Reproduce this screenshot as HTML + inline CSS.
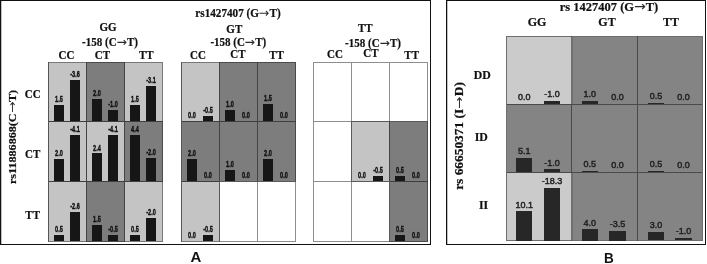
<!DOCTYPE html>
<html lang="en"><head><meta charset="utf-8"><title>Figure</title>
<style>
html,body{margin:0;padding:0;background:#fff;}
body{width:707px;height:264px;position:relative;overflow:hidden;}
.b{position:absolute;box-sizing:border-box;}
.frame{position:absolute;box-sizing:border-box;border:1px solid #111;border-left-width:1px;box-shadow:inset 1px 0 0 rgba(0,0,0,.25);}
.t{position:absolute;white-space:nowrap;transform:translate(-50%,-50%);line-height:1;color:#111;}
.t>span{display:block;}
.ar{display:inline-block;font-style:normal;font-family:"DejaVu Sans",sans-serif;font-weight:normal;font-size:1em;transform:scaleX(1.12);margin:0 .05em;-webkit-text-stroke:0 transparent;color:#2a2a2a;}
.ha>span{transform:scaleY(1.12);}
.hb>span{transform:scaleY(1.07);}
.v>span{transform:scaleX(1.1) !important;}
.vb>span{transform:scaleX(1.115) !important;}
.ha{font-family:"Liberation Serif",serif;font-weight:bold;font-size:11px;-webkit-text-stroke:.2px #111;}
.hb{font-family:"Liberation Serif",serif;font-weight:bold;font-size:12px;-webkit-text-stroke:.2px #111;}
.la{font-family:"Liberation Sans",sans-serif;font-weight:bold;font-size:9px;color:#111;-webkit-text-stroke:.4px #111;}
.la>span{transform:scaleX(.62);}
.lb{font-family:"Liberation Sans",sans-serif;font-size:9px;color:#222;-webkit-text-stroke:.45px #222;}
.plb>span{transform:scaleX(.9);}
.pl{font-family:"Liberation Sans",sans-serif;font-weight:bold;font-size:15px;color:#111;}
</style></head><body>
<div class="frame" style="left:0;top:0;width:431px;height:245px"></div>
<div class="frame" style="left:446px;top:0;width:260.4px;height:245px"></div>
<div class="b" style="left:48px;top:61.5px;width:39px;height:60.6px;background:#c4c4c4;border:1px solid #787878;"></div>
<div class="b" style="left:86px;top:61.5px;width:39px;height:60.6px;background:#7d7d7d;border:1px solid #4a4a4a;"></div>
<div class="b" style="left:124px;top:61.5px;width:39px;height:60.6px;background:#c4c4c4;border:1px solid #787878;"></div>
<div class="b" style="left:48px;top:121.1px;width:39px;height:60.9px;background:#c4c4c4;border:1px solid #787878;"></div>
<div class="b" style="left:86px;top:121.1px;width:39px;height:60.9px;background:#c4c4c4;border:1px solid #787878;"></div>
<div class="b" style="left:124px;top:121.1px;width:39px;height:60.9px;background:#7d7d7d;border:1px solid #4a4a4a;"></div>
<div class="b" style="left:48px;top:181px;width:39px;height:60.5px;background:#c4c4c4;border:1px solid #787878;"></div>
<div class="b" style="left:86px;top:181px;width:39px;height:60.5px;background:#7d7d7d;border:1px solid #4a4a4a;"></div>
<div class="b" style="left:124px;top:181px;width:39px;height:60.5px;background:#c4c4c4;border:1px solid #787878;"></div>
<div class="b" style="left:86px;top:61.5px;width:1px;height:60.6px;background:#444;"></div>
<div class="b" style="left:48px;top:121.1px;width:39px;height:1px;background:#3e3e3e;"></div>
<div class="b" style="left:48px;top:61.5px;width:1px;height:60.6px;background:#555;"></div>
<div class="b" style="left:124px;top:61.5px;width:1px;height:60.6px;background:#444;"></div>
<div class="b" style="left:86px;top:121.1px;width:39px;height:1px;background:#3e3e3e;"></div>
<div class="b" style="left:124px;top:121.1px;width:39px;height:1px;background:#3e3e3e;"></div>
<div class="b" style="left:86px;top:121.1px;width:1px;height:60.9px;background:#444;"></div>
<div class="b" style="left:48px;top:181px;width:39px;height:1px;background:#3e3e3e;"></div>
<div class="b" style="left:48px;top:121.1px;width:1px;height:60.9px;background:#555;"></div>
<div class="b" style="left:124px;top:121.1px;width:1px;height:60.9px;background:#444;"></div>
<div class="b" style="left:86px;top:181px;width:39px;height:1px;background:#3e3e3e;"></div>
<div class="b" style="left:124px;top:181px;width:39px;height:1px;background:#3e3e3e;"></div>
<div class="b" style="left:86px;top:181px;width:1px;height:60.5px;background:#444;"></div>
<div class="b" style="left:48px;top:181px;width:1px;height:60.5px;background:#555;"></div>
<div class="b" style="left:124px;top:181px;width:1px;height:60.5px;background:#444;"></div>
<div class="b" style="left:54.2px;top:105.1px;width:9.5px;height:16px;background:#161616;"></div>
<div class="t la" style="left:58.9px;top:99.2px;"><span>1.5</span></div>
<div class="b" style="left:70.1px;top:79.9px;width:9.5px;height:41.2px;background:#161616;"></div>
<div class="t la" style="left:74.8px;top:74px;"><span>-3.6</span></div>
<div class="b" style="left:92.2px;top:99.1px;width:9.5px;height:22px;background:#161616;"></div>
<div class="t la" style="left:96.9px;top:93.2px;"><span>2.0</span></div>
<div class="b" style="left:108.1px;top:110.1px;width:9.5px;height:11px;background:#161616;"></div>
<div class="t la" style="left:112.8px;top:104.2px;"><span>-1.0</span></div>
<div class="b" style="left:130.2px;top:105.1px;width:9.5px;height:16px;background:#161616;"></div>
<div class="t la" style="left:134.9px;top:99.2px;"><span>1.5</span></div>
<div class="b" style="left:146.1px;top:86.1px;width:9.5px;height:35px;background:#161616;"></div>
<div class="t la" style="left:150.8px;top:80.2px;"><span>-3.1</span></div>
<div class="b" style="left:54.2px;top:158.9px;width:9.5px;height:22.1px;background:#161616;"></div>
<div class="t la" style="left:58.9px;top:153px;"><span>2.0</span></div>
<div class="b" style="left:70.1px;top:134.9px;width:9.5px;height:46.1px;background:#161616;"></div>
<div class="t la" style="left:74.8px;top:129px;"><span>-4.1</span></div>
<div class="b" style="left:92.2px;top:153.4px;width:9.5px;height:27.6px;background:#161616;"></div>
<div class="t la" style="left:96.9px;top:147.5px;"><span>2.4</span></div>
<div class="b" style="left:108.1px;top:134.9px;width:9.5px;height:46.1px;background:#161616;"></div>
<div class="t la" style="left:112.8px;top:129px;"><span>-4.1</span></div>
<div class="b" style="left:130.2px;top:134.9px;width:9.5px;height:46.1px;background:#161616;"></div>
<div class="t la" style="left:134.9px;top:129px;"><span>4.4</span></div>
<div class="b" style="left:146.1px;top:158px;width:9.5px;height:23px;background:#161616;"></div>
<div class="t la" style="left:150.8px;top:152.1px;"><span>-2.0</span></div>
<div class="b" style="left:54.2px;top:234.5px;width:9.5px;height:6px;background:#161616;"></div>
<div class="t la" style="left:58.9px;top:228.6px;"><span>0.5</span></div>
<div class="b" style="left:70.1px;top:212px;width:9.5px;height:28.5px;background:#161616;"></div>
<div class="t la" style="left:74.8px;top:206.1px;"><span>-2.6</span></div>
<div class="b" style="left:92.2px;top:224.5px;width:9.5px;height:16px;background:#161616;"></div>
<div class="t la" style="left:96.9px;top:218.6px;"><span>1.5</span></div>
<div class="b" style="left:108.1px;top:234.5px;width:9.5px;height:6px;background:#161616;"></div>
<div class="t la" style="left:112.8px;top:228.6px;"><span>-0.5</span></div>
<div class="b" style="left:130.2px;top:234.5px;width:9.5px;height:6px;background:#161616;"></div>
<div class="t la" style="left:134.9px;top:228.6px;"><span>0.5</span></div>
<div class="b" style="left:146.1px;top:217.5px;width:9.5px;height:23px;background:#161616;"></div>
<div class="t la" style="left:150.8px;top:211.6px;"><span>-2.0</span></div>
<div class="b" style="left:181px;top:61.5px;width:39px;height:60.6px;background:#c4c4c4;border:1px solid #787878;"></div>
<div class="b" style="left:219px;top:61.5px;width:39px;height:60.6px;background:#7d7d7d;border:1px solid #4a4a4a;"></div>
<div class="b" style="left:257px;top:61.5px;width:38.6px;height:60.6px;background:#7d7d7d;border:1px solid #4a4a4a;"></div>
<div class="b" style="left:181px;top:121.1px;width:39px;height:60.9px;background:#7d7d7d;border:1px solid #4a4a4a;"></div>
<div class="b" style="left:219px;top:121.1px;width:39px;height:60.9px;background:#7d7d7d;border:1px solid #4a4a4a;"></div>
<div class="b" style="left:257px;top:121.1px;width:38.6px;height:60.9px;background:#7d7d7d;border:1px solid #4a4a4a;"></div>
<div class="b" style="left:181px;top:181px;width:39px;height:60.5px;background:#c4c4c4;border:1px solid #787878;"></div>
<div class="b" style="left:219px;top:181px;width:39px;height:60.5px;background:#fff;border:1px solid #8e8e8e;"></div>
<div class="b" style="left:257px;top:181px;width:38.6px;height:60.5px;background:#fff;border:1px solid #8e8e8e;"></div>
<div class="b" style="left:219px;top:61.5px;width:1px;height:60.6px;background:#444;"></div>
<div class="b" style="left:181px;top:121.1px;width:39px;height:1px;background:#3e3e3e;"></div>
<div class="b" style="left:181px;top:61.5px;width:1px;height:60.6px;background:#555;"></div>
<div class="b" style="left:257px;top:61.5px;width:1px;height:60.6px;background:#444;"></div>
<div class="b" style="left:219px;top:121.1px;width:39px;height:1px;background:#3e3e3e;"></div>
<div class="b" style="left:257px;top:121.1px;width:38.6px;height:1px;background:#3e3e3e;"></div>
<div class="b" style="left:219px;top:121.1px;width:1px;height:60.9px;background:#444;"></div>
<div class="b" style="left:181px;top:181px;width:39px;height:1px;background:#3e3e3e;"></div>
<div class="b" style="left:181px;top:121.1px;width:1px;height:60.9px;background:#555;"></div>
<div class="b" style="left:257px;top:121.1px;width:1px;height:60.9px;background:#444;"></div>
<div class="b" style="left:219px;top:181px;width:39px;height:1px;background:#5a5a5a;"></div>
<div class="b" style="left:257px;top:181px;width:38.6px;height:1px;background:#5a5a5a;"></div>
<div class="b" style="left:219px;top:181px;width:1px;height:60.5px;background:#5a5a5a;"></div>
<div class="b" style="left:181px;top:181px;width:1px;height:60.5px;background:#555;"></div>
<div class="t la" style="left:191.9px;top:115.2px;"><span>0.0</span></div>
<div class="b" style="left:203.1px;top:115.6px;width:9.5px;height:5.5px;background:#161616;"></div>
<div class="t la" style="left:207.8px;top:109.7px;"><span>-0.5</span></div>
<div class="b" style="left:225.2px;top:110.1px;width:9.5px;height:11px;background:#161616;"></div>
<div class="t la" style="left:229.9px;top:104.2px;"><span>1.0</span></div>
<div class="t la" style="left:245.8px;top:115.2px;"><span>0.0</span></div>
<div class="b" style="left:263.2px;top:104.1px;width:9.5px;height:17px;background:#161616;"></div>
<div class="t la" style="left:267.9px;top:98.2px;"><span>1.5</span></div>
<div class="t la" style="left:283.8px;top:115.2px;"><span>0.0</span></div>
<div class="b" style="left:187.2px;top:159px;width:9.5px;height:22px;background:#161616;"></div>
<div class="t la" style="left:191.9px;top:153.1px;"><span>2.0</span></div>
<div class="t la" style="left:207.8px;top:175.1px;"><span>0.0</span></div>
<div class="b" style="left:225.2px;top:170px;width:9.5px;height:11px;background:#161616;"></div>
<div class="t la" style="left:229.9px;top:164.1px;"><span>1.0</span></div>
<div class="t la" style="left:245.8px;top:175.1px;"><span>0.0</span></div>
<div class="b" style="left:263.2px;top:159px;width:9.5px;height:22px;background:#161616;"></div>
<div class="t la" style="left:267.9px;top:153.1px;"><span>2.0</span></div>
<div class="t la" style="left:283.8px;top:175.1px;"><span>0.0</span></div>
<div class="t la" style="left:191.9px;top:234.6px;"><span>0.0</span></div>
<div class="b" style="left:203.1px;top:235px;width:9.5px;height:5.5px;background:#161616;"></div>
<div class="t la" style="left:207.8px;top:229.1px;"><span>-0.5</span></div>
<div class="b" style="left:313.3px;top:61.5px;width:38.9px;height:60.6px;background:#fff;border:1px solid #8e8e8e;"></div>
<div class="b" style="left:351.2px;top:61.5px;width:39px;height:60.6px;background:#fff;border:1px solid #8e8e8e;"></div>
<div class="b" style="left:389.2px;top:61.5px;width:39px;height:60.6px;background:#fff;border:1px solid #8e8e8e;"></div>
<div class="b" style="left:313.3px;top:121.1px;width:38.9px;height:60.9px;background:#fff;border:1px solid #8e8e8e;"></div>
<div class="b" style="left:351.2px;top:121.1px;width:39px;height:60.9px;background:#c4c4c4;border:1px solid #787878;"></div>
<div class="b" style="left:389.2px;top:121.1px;width:39px;height:60.9px;background:#7d7d7d;border:1px solid #4a4a4a;"></div>
<div class="b" style="left:313.3px;top:181px;width:38.9px;height:60.5px;background:#fff;border:1px solid #8e8e8e;"></div>
<div class="b" style="left:351.2px;top:181px;width:39px;height:60.5px;background:#fff;border:1px solid #8e8e8e;"></div>
<div class="b" style="left:389.2px;top:181px;width:39px;height:60.5px;background:#7d7d7d;border:1px solid #4a4a4a;"></div>
<div class="b" style="left:351.2px;top:121.1px;width:39px;height:1px;background:#5a5a5a;"></div>
<div class="b" style="left:389.2px;top:121.1px;width:39px;height:1px;background:#5a5a5a;"></div>
<div class="b" style="left:351.2px;top:121.1px;width:1px;height:60.9px;background:#5a5a5a;"></div>
<div class="b" style="left:389.2px;top:121.1px;width:1px;height:60.9px;background:#444;"></div>
<div class="b" style="left:351.2px;top:181px;width:39px;height:1px;background:#5a5a5a;"></div>
<div class="b" style="left:389.2px;top:181px;width:39px;height:1px;background:#3e3e3e;"></div>
<div class="b" style="left:389.2px;top:181px;width:1px;height:60.5px;background:#5a5a5a;"></div>
<div class="t la" style="left:362.1px;top:175.1px;"><span>0.0</span></div>
<div class="b" style="left:373.3px;top:175.5px;width:9.5px;height:5.5px;background:#161616;"></div>
<div class="t la" style="left:378px;top:169.6px;"><span>-0.5</span></div>
<div class="b" style="left:395.4px;top:175.5px;width:9.5px;height:5.5px;background:#161616;"></div>
<div class="t la" style="left:400.1px;top:169.6px;"><span>0.5</span></div>
<div class="t la" style="left:416px;top:175.1px;"><span>0.0</span></div>
<div class="b" style="left:395.4px;top:235px;width:9.5px;height:5.5px;background:#161616;"></div>
<div class="t la" style="left:400.1px;top:229.1px;"><span>0.5</span></div>
<div class="t la" style="left:416px;top:234.6px;"><span>0.0</span></div>
<div class="t ha" style="left:238px;top:12.6px;font-size:11.2px;"><span>rs1427407 (G<i class="ar">→</i>T)</span></div>
<div class="t ha" style="left:108px;top:26.6px;"><span>GG</span></div>
<div class="t ha" style="left:110px;top:42px;"><span>-158 (C<i class="ar">→</i>T)</span></div>
<div class="t ha" style="left:234.3px;top:28.9px;"><span>GT</span></div>
<div class="t ha" style="left:238.3px;top:42px;"><span>-158 (C<i class="ar">→</i>T)</span></div>
<div class="t ha" style="left:365.3px;top:28.4px;"><span>TT</span></div>
<div class="t ha" style="left:373px;top:43.2px;"><span>-158 (C<i class="ar">→</i>T)</span></div>
<div class="t ha" style="left:66.5px;top:54.9px;"><span>CC</span></div>
<div class="t ha" style="left:102.5px;top:54.9px;"><span>CT</span></div>
<div class="t ha" style="left:146.3px;top:54.9px;"><span>TT</span></div>
<div class="t ha" style="left:198px;top:54.7px;"><span>CC</span></div>
<div class="t ha" style="left:238px;top:53.7px;"><span>CT</span></div>
<div class="t ha" style="left:276.5px;top:54.7px;"><span>TT</span></div>
<div class="t ha" style="left:335px;top:53.9px;"><span>CC</span></div>
<div class="t ha" style="left:371px;top:53.4px;"><span>CT</span></div>
<div class="t ha" style="left:411.7px;top:54.5px;"><span>TT</span></div>
<div class="t ha" style="left:32.7px;top:94px;"><span>CC</span></div>
<div class="t ha" style="left:32.7px;top:154px;"><span>CT</span></div>
<div class="t ha" style="left:32.7px;top:215px;"><span>TT</span></div>
<div class="t ha v" style="left:12.1px;top:137.3px;transform:translate(-50%,-50%) rotate(-90deg);font-size:11px;"><span>rs11886868(C<i class="ar">→</i>T)</span></div>
<div class="t pl" style="left:196px;top:255.5px;"><span>A</span></div>
<div class="b" style="left:506px;top:36.25px;width:65.5px;height:67.75px;background:#cbcbcb;"></div>
<div class="b" style="left:571.5px;top:36.25px;width:66.1px;height:67.75px;background:#848484;"></div>
<div class="b" style="left:637.6px;top:36.25px;width:65.2px;height:67.75px;background:#848484;"></div>
<div class="b" style="left:506px;top:104px;width:65.5px;height:68px;background:#848484;"></div>
<div class="b" style="left:571.5px;top:104px;width:66.1px;height:68px;background:#848484;"></div>
<div class="b" style="left:637.6px;top:104px;width:65.2px;height:68px;background:#848484;"></div>
<div class="b" style="left:506px;top:172px;width:65.5px;height:68.5px;background:#cbcbcb;"></div>
<div class="b" style="left:571.5px;top:172px;width:66.1px;height:68.5px;background:#848484;"></div>
<div class="b" style="left:637.6px;top:172px;width:65.2px;height:68.5px;background:#848484;"></div>
<div class="b" style="left:506px;top:35.75px;width:196.8px;height:1px;background:#6e6e6e;"></div>
<div class="b" style="left:506px;top:103.5px;width:196.8px;height:1px;background:#4a4a4a;"></div>
<div class="b" style="left:506px;top:171.5px;width:196.8px;height:1px;background:#4a4a4a;"></div>
<div class="b" style="left:506px;top:240px;width:196.8px;height:1px;background:#6e6e6e;"></div>
<div class="b" style="left:505.5px;top:36.25px;width:1px;height:204.25px;background:#6e6e6e;"></div>
<div class="b" style="left:571px;top:36.25px;width:1px;height:204.25px;background:#4a4a4a;"></div>
<div class="b" style="left:637.1px;top:36.25px;width:1px;height:204.25px;background:#4a4a4a;"></div>
<div class="b" style="left:702.3px;top:36.25px;width:1px;height:204.25px;background:#6e6e6e;"></div>
<div class="b" style="left:571px;top:36.75px;width:2px;height:66.75px;background:#707070;"></div>
<div class="b" style="left:571px;top:172.5px;width:2px;height:67.5px;background:#707070;"></div>
<div class="t lb" style="left:524.3px;top:97.4px;"><span>0.0</span></div>
<div class="b" style="left:543.8px;top:101px;width:16.25px;height:3px;background:#272727;"></div>
<div class="t lb" style="left:551.9px;top:94.4px;"><span>-1.0</span></div>
<div class="b" style="left:581.7px;top:101px;width:16.25px;height:3px;background:#272727;"></div>
<div class="t lb" style="left:589.8px;top:94.4px;"><span>1.0</span></div>
<div class="t lb" style="left:617.4px;top:97.4px;"><span>0.0</span></div>
<div class="b" style="left:647.8px;top:102.5px;width:16.25px;height:1.5px;background:#272727;"></div>
<div class="t lb" style="left:655.9px;top:95.9px;"><span>0.5</span></div>
<div class="t lb" style="left:683.5px;top:97.4px;"><span>0.0</span></div>
<div class="b" style="left:516.2px;top:158px;width:16.25px;height:14px;background:#272727;"></div>
<div class="t lb" style="left:524.3px;top:151.4px;"><span>5.1</span></div>
<div class="b" style="left:543.8px;top:169.1px;width:16.25px;height:2.9px;background:#272727;"></div>
<div class="t lb" style="left:551.9px;top:162.5px;"><span>-1.0</span></div>
<div class="b" style="left:581.7px;top:170.5px;width:16.25px;height:1.5px;background:#272727;"></div>
<div class="t lb" style="left:589.8px;top:163.9px;"><span>0.5</span></div>
<div class="t lb" style="left:617.4px;top:165.4px;"><span>0.0</span></div>
<div class="b" style="left:647.8px;top:170.5px;width:16.25px;height:1.5px;background:#272727;"></div>
<div class="t lb" style="left:655.9px;top:163.9px;"><span>0.5</span></div>
<div class="t lb" style="left:683.5px;top:165.4px;"><span>0.0</span></div>
<div class="b" style="left:516.2px;top:211.25px;width:16.25px;height:29.25px;background:#272727;"></div>
<div class="t lb" style="left:524.3px;top:204.65px;"><span>10.1</span></div>
<div class="b" style="left:543.8px;top:188px;width:16.25px;height:52.5px;background:#272727;"></div>
<div class="t lb" style="left:551.9px;top:181.4px;"><span>-18.3</span></div>
<div class="b" style="left:581.7px;top:229.25px;width:16.25px;height:11.25px;background:#272727;"></div>
<div class="t lb" style="left:589.8px;top:222.65px;"><span>4.0</span></div>
<div class="b" style="left:609.3px;top:230.75px;width:16.25px;height:9.75px;background:#272727;"></div>
<div class="t lb" style="left:617.4px;top:224.15px;"><span>-3.5</span></div>
<div class="b" style="left:647.8px;top:231.6px;width:16.25px;height:8.9px;background:#272727;"></div>
<div class="t lb" style="left:655.9px;top:225px;"><span>3.0</span></div>
<div class="b" style="left:675.4px;top:237.8px;width:16.25px;height:2.7px;background:#272727;"></div>
<div class="t lb" style="left:683.5px;top:231.2px;"><span>-1.0</span></div>
<div class="t hb" style="left:609px;top:6.6px;font-size:12.5px;"><span>rs 1427407 (G<i class="ar">→</i>T)</span></div>
<div class="t hb" style="left:537px;top:22.3px;"><span>GG</span></div>
<div class="t hb" style="left:607px;top:22.3px;"><span>GT</span></div>
<div class="t hb" style="left:671px;top:22.3px;"><span>TT</span></div>
<div class="t hb" style="left:482.2px;top:75.6px;font-size:11.8px;"><span>DD</span></div>
<div class="t hb" style="left:481.2px;top:137.6px;font-size:11.8px;"><span>ID</span></div>
<div class="t hb" style="left:483.6px;top:205.5px;font-size:11.8px;"><span>II</span></div>
<div class="t hb v vb" style="left:459px;top:135.5px;transform:translate(-50%,-50%) rotate(-90deg);font-size:12px;"><span>rs 66650371 (I<i class="ar">→</i>D)</span></div>
<div class="t pl plb" style="left:608.6px;top:256.7px;"><span>B</span></div>
</body></html>
